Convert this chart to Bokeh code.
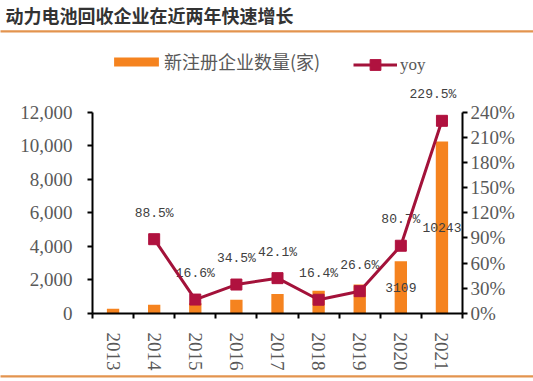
import math
from bokeh.plotting import figure
from bokeh.layouts import column
from bokeh.models import (ColumnDataSource, Range1d, LinearAxis, FixedTicker,
                          NumeralTickFormatter, PrintfTickFormatter, Legend,
                          LegendItem, Title)
from bokeh.core.properties import value
from bokeh.embed import file_html
from bokeh.resources import INLINE

# ---- data ----
years = ["2013", "2014", "2015", "2016", "2017", "2018", "2019", "2020", "2021"]
counts = [278, 524, 611, 822, 1168, 1359, 1721, 3109, 10243]
yoy = [None, 88.5, 16.6, 34.5, 42.1, 16.4, 26.6, 80.7, 229.5]
count_ticks = [0, 2000, 4000, 6000, 8000, 10000, 12000]
yoy_ticks = [0, 30, 60, 90, 120, 150, 180, 210, 240]
labelled_years = ["2020", "2021"]
title_text = "动力电池回收企业在近两年快速增长"
bar_name = "新注册企业数量(家)"
line_name = "yoy"

BAR = "#F5831F"
LINE = "#A3123A"
MARK = "#B0123F"
TXT = "#595959"
LBL = "#404040"
RULE = "#E3944F"
W = 533
BL, BR = 92, 71   # side borders (frames line up)


def rule():
    # a thin full-width orange band drawn as a padded, filled title box
    return Title(text=" ", align="left", offset=-BL, standoff=0,
                 text_font_size="2px", text_color=RULE,
                 background_fill_color=RULE, border_line_color=None,
                 padding=dict(left=10, right=600, top=0, bottom=0))


# ---- title strip ----
tfig = figure(width=W, height=33, output_backend="svg", toolbar_location=None,
              title=None, x_range=Range1d(0, 1), y_range=Range1d(0, 1),
              x_axis_type=None, y_axis_type=None,
              min_border_left=BL, min_border_right=BR,
              min_border_top=32, min_border_bottom=0)
tfig.outline_line_color = None
tfig.grid.visible = False
tfig.add_layout(rule(), "above")
tfig.add_layout(Title(text=title_text, align="left", offset=-87, standoff=0,
                      vertical_align="middle",
                      text_font="Noto Sans CJK SC", text_font_style="bold",
                      text_font_size="18px", text_color="#333333"), "above")

# ---- chart ----
CH = 348
xs = list(range(len(years)))
bar_src = ColumnDataSource(dict(
    x=xs, top=counts, mid=[c / 2 for c in counts],
    lab=[str(c) if y in labelled_years else "" for y, c in zip(years, counts)]))
yx = [i for i, v in zip(xs, yoy) if v is not None]
yv = [v for v in yoy if v is not None]
line_src = ColumnDataSource(dict(
    x=yx, y=yv, lab=["%.1f%%" % v for v in yv],
    dx=[-9 if i == len(yv) - 1 else 0 for i in range(len(yv))]))

YMAX = 271 / 201.5 * 12000
p = figure(width=W, height=CH, output_backend="svg", toolbar_location=None,
           title=None,
           x_range=Range1d(-0.5, 8.5), y_range=Range1d(0, YMAX),
           min_border_left=BL, min_border_right=BR, min_border_top=9,
           min_border_bottom=68)
p.extra_y_ranges = {"yoy": Range1d(0, YMAX / 50.0)}
p.outline_line_color = None
p.xgrid.visible = False
p.ygrid.visible = False
p.background_fill_color = "white"
p.border_fill_color = "white"

# left axis
ya = p.yaxis[0]
ya.bounds = (0, 12000)
ya.ticker = FixedTicker(ticks=count_ticks)
ya.formatter = NumeralTickFormatter(format="0,0")
ya.axis_line_color = "black"
ya.axis_line_width = 2
ya.major_tick_line_color = "black"
ya.major_tick_line_width = 2
ya.major_tick_in = 0
ya.major_tick_out = 5
ya.minor_tick_line_color = None
ya.major_label_text_font = "Liberation Serif"
ya.major_label_text_font_size = "19px"
ya.major_label_text_color = TXT
ya.major_label_standoff = 15

# right axis
ra = LinearAxis(y_range_name="yoy", bounds=(0, 240),
                ticker=FixedTicker(ticks=yoy_ticks),
                formatter=PrintfTickFormatter(format="%d%%"))
ra.axis_line_color = "black"
ra.axis_line_width = 2
ra.major_tick_line_color = "black"
ra.major_tick_line_width = 2
ra.major_tick_in = 0
ra.major_tick_out = 5
ra.minor_tick_line_color = None
ra.major_label_text_font = "Liberation Serif"
ra.major_label_text_font_size = "19px"
ra.major_label_text_color = TXT
ra.major_label_standoff = 3
p.add_layout(ra, "right")

# x axis
xa = p.xaxis[0]
xa.ticker = FixedTicker(ticks=xs, minor_ticks=[i - 0.5 for i in range(len(years) + 1)])
xa.major_label_overrides = {i: y for i, y in zip(xs, years)}
xa.major_label_orientation = -math.pi / 2
xa.major_tick_line_color = None
xa.major_tick_out = 0
xa.major_tick_in = 0
xa.minor_tick_line_color = "black"
xa.minor_tick_line_width = 2
xa.minor_tick_in = 0
xa.minor_tick_out = 5
xa.axis_line_color = "black"
xa.axis_line_width = 2
xa.major_label_text_font = "Liberation Serif"
xa.major_label_text_font_size = "19px"
xa.major_label_text_color = TXT
xa.major_label_standoff = 14

# bottom rule, stacked under the x axis labels
p.add_layout(rule(), "below")

# marks
bars = p.vbar(x="x", top="top", width=0.3, source=bar_src, fill_color=BAR,
              line_color=None)
p.text(x="x", y="mid", text="lab", source=bar_src, text_align="center",
       text_baseline="middle", text_font=value("Liberation Mono"),
       text_font_size="13px", text_color=LBL)
p.text(x="x", y="y", text="lab", source=line_src, y_range_name="yoy",
       text_align="center", text_baseline="middle", y_offset=-26,
       x_offset="dx", text_font=value("Liberation Mono"),
       text_font_size="13px", text_color=LBL)
ln = p.line(x="x", y="y", source=line_src, y_range_name="yoy",
            line_color=LINE, line_width=3)
mk = p.scatter(x="x", y="y", source=line_src, y_range_name="yoy",
               marker="square", size=11, fill_color=MARK, line_color=MARK)

# legends (inside frame, positions relative to frame bottom-left)
leg1 = Legend(items=[LegendItem(label=bar_name, renderers=[bars])],
              location=(16, 239), orientation="horizontal", padding=0,
              margin=0, glyph_width=56, glyph_height=11, label_standoff=0,
              label_text_font="Noto Sans CJK SC", label_text_font_size="18px",
              label_text_color=TXT, border_line_color=None,
              background_fill_alpha=0)
leg2 = Legend(items=[LegendItem(label=line_name, renderers=[ln, mk])],
              location=(261, 235), orientation="horizontal", padding=0,
              margin=0, glyph_width=44, glyph_height=27, label_standoff=3,
              label_text_font="Liberation Serif", label_text_font_size="17px",
              label_text_color=TXT, border_line_color=None,
              background_fill_alpha=0)
p.add_layout(leg1, "center")
p.add_layout(leg2, "center")

layout = column(tfig, p, spacing=0)
open("out.html", "w").write(file_html(layout, INLINE))
